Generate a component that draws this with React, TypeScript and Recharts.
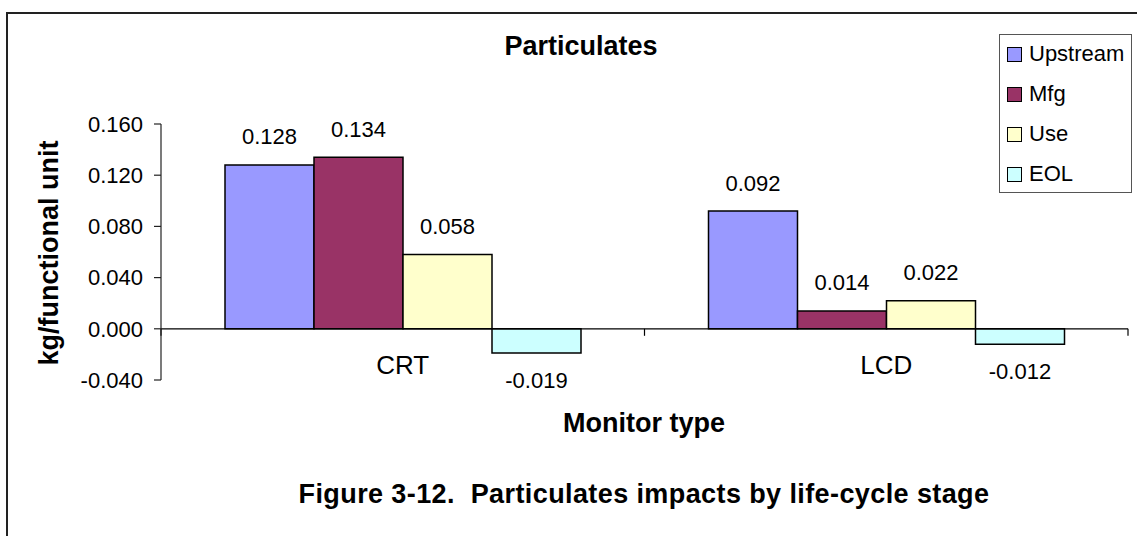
import { BarChart, Bar, XAxis, YAxis, ReferenceLine, LabelList, Legend } from 'recharts'

const categories = ['CRT', 'LCD']
const upstream = [0.128, 0.092]
const mfg = [0.134, 0.014]
const use = [0.058, 0.022]
const eol = [-0.019, -0.012]
const yTicks = [-0.04, 0, 0.04, 0.08, 0.12, 0.16]

const series = [
  { key: 'upstream', name: 'Upstream', color: '#9999ff' },
  { key: 'mfg', name: 'Mfg', color: '#993366' },
  { key: 'use', name: 'Use', color: '#ffffcc' },
  { key: 'eol', name: 'EOL', color: '#ccffff' },
]

const data = categories.map((c, i) => ({
  name: c,
  upstream: upstream[i],
  mfg: mfg[i],
  use: use[i],
  eol: eol[i],
}))

const FONT = '"Liberation Sans", Arial, sans-serif'

// data label above a positive bar, below a negative one
const valueLabel = (props: any) => {
  const { x, y, width, height, value } = props
  const top = Math.min(y, y + height)
  const bottom = Math.max(y, y + height)
  const cy = value >= 0 ? top - 28 : bottom + 27
  return (
    <text x={x + width / 2} y={cy} textAnchor="middle" dominantBaseline="central" fontSize={22} fontFamily={FONT} fill="#000">
      {Number(value).toFixed(3)}
    </text>
  )
}

const categoryTick = (props: any) => {
  const { x, y, payload } = props
  return (
    <text x={x} y={y - 15} textAnchor="middle" dominantBaseline="central" fontSize={26} fontFamily={FONT} fill="#000">
      {payload.value}
    </text>
  )
}

// zero line with Excel-style tick marks at category boundaries
const zeroLine = (props: any) => {
  const { x1, x2, y1 } = props
  const mid = (x1 + x2) / 2
  return (
    <g>
      <line x1={x1} x2={x2} y1={y1} y2={y1} stroke="#000" strokeWidth={1.2} />
      {[x1, mid, x2].map((tx, i) => (
        <line key={i} x1={tx} x2={tx} y1={y1} y2={y1 + 7} stroke="#000" strokeWidth={1.2} />
      ))}
    </g>
  )
}

const legendBox = () => (
  <div
    style={{
      width: 131,
      height: 157,
      border: '1px solid #555',
      background: '#fff',
      fontFamily: FONT,
      fontSize: 22,
      boxSizing: 'content-box',
      position: 'relative',
    }}
  >
    {series.map((s, i) => (
      <div key={s.key} style={{ position: 'absolute', left: 7, top: 19 + i * 40 - 13, height: 26, display: 'flex', alignItems: 'center' }}>
        <span style={{ display: 'inline-block', width: 13, height: 13, background: s.color, border: '1.5px solid #000', marginRight: 7 }} />
        <span>{s.name}</span>
      </div>
    ))}
  </div>
)

export default function App() {
  return (
    <div style={{ position: 'absolute', left: 0, top: 0, width: 1137, height: 536, overflow: 'hidden', background: '#fff' }}>
      <div style={{ position: 'absolute', left: 6, top: 12, width: 1300, height: 700, border: '2px solid #222' }} />
      <div style={{ position: 'absolute', left: 0, top: 0 }}>
        <BarChart
          width={1137}
          height={536}
          data={data}
          margin={{ top: 124, right: 9, left: 0, bottom: 126 }}
          barCategoryGap={64}
          barGap={0}
        >
          <XAxis dataKey="name" height={30} axisLine={false} tickLine={false} tickSize={0} tickMargin={0} tick={categoryTick} />
          <YAxis
            width={161}
            domain={[-0.04, 0.16]}
            ticks={yTicks}
            interval={0}
            tickFormatter={(v: number) => v.toFixed(3)}
            tick={{ fontSize: 22, fontFamily: FONT, fill: '#000' }}
            tickSize={7}
            tickMargin={11}
            axisLine={{ stroke: '#222', strokeWidth: 1.2 }}
            tickLine={{ stroke: '#222', strokeWidth: 1.2 }}
          />
          <ReferenceLine y={0} shape={zeroLine} />
          {series.map((s) => (
            <Bar key={s.key} dataKey={s.key} name={s.name} fill={s.color} stroke="#000" strokeWidth={1.5} isAnimationActive={false}>
              <LabelList dataKey={s.key} content={valueLabel} />
            </Bar>
          ))}
          <Legend
            layout="vertical"
            align="center"
            verticalAlign="middle"
            content={legendBox}
            wrapperStyle={{ left: 999, top: 34, width: 133, height: 159 }}
          />
        </BarChart>
      </div>
      <svg width={1137} height={536} style={{ position: 'absolute', left: 0, top: 0, pointerEvents: 'none' }}>
        <text x={581} y={55} textAnchor="middle" fontSize={27} fontWeight="bold" fontFamily={FONT} fill="#000">
          Particulates
        </text>
        <text
          transform="translate(58,253) rotate(-90)"
          textAnchor="middle"
          fontSize={27}
          fontWeight="bold"
          fontFamily={FONT}
          fill="#000"
        >
          kg/functional unit
        </text>
        <text x={644} y={432} textAnchor="middle" fontSize={27} fontWeight="bold" fontFamily={FONT} fill="#000">
          Monitor type
        </text>
        <text
          x={644}
          y={503}
          textAnchor="middle"
          fontSize={27}
          fontWeight="bold"
          fontFamily={FONT}
          fill="#000"
          letterSpacing={0.4}
          style={{ whiteSpace: 'pre' }}
        >
          {'Figure 3-12.  Particulates impacts by life-cycle stage'}
        </text>
      </svg>
    </div>
  )
}
